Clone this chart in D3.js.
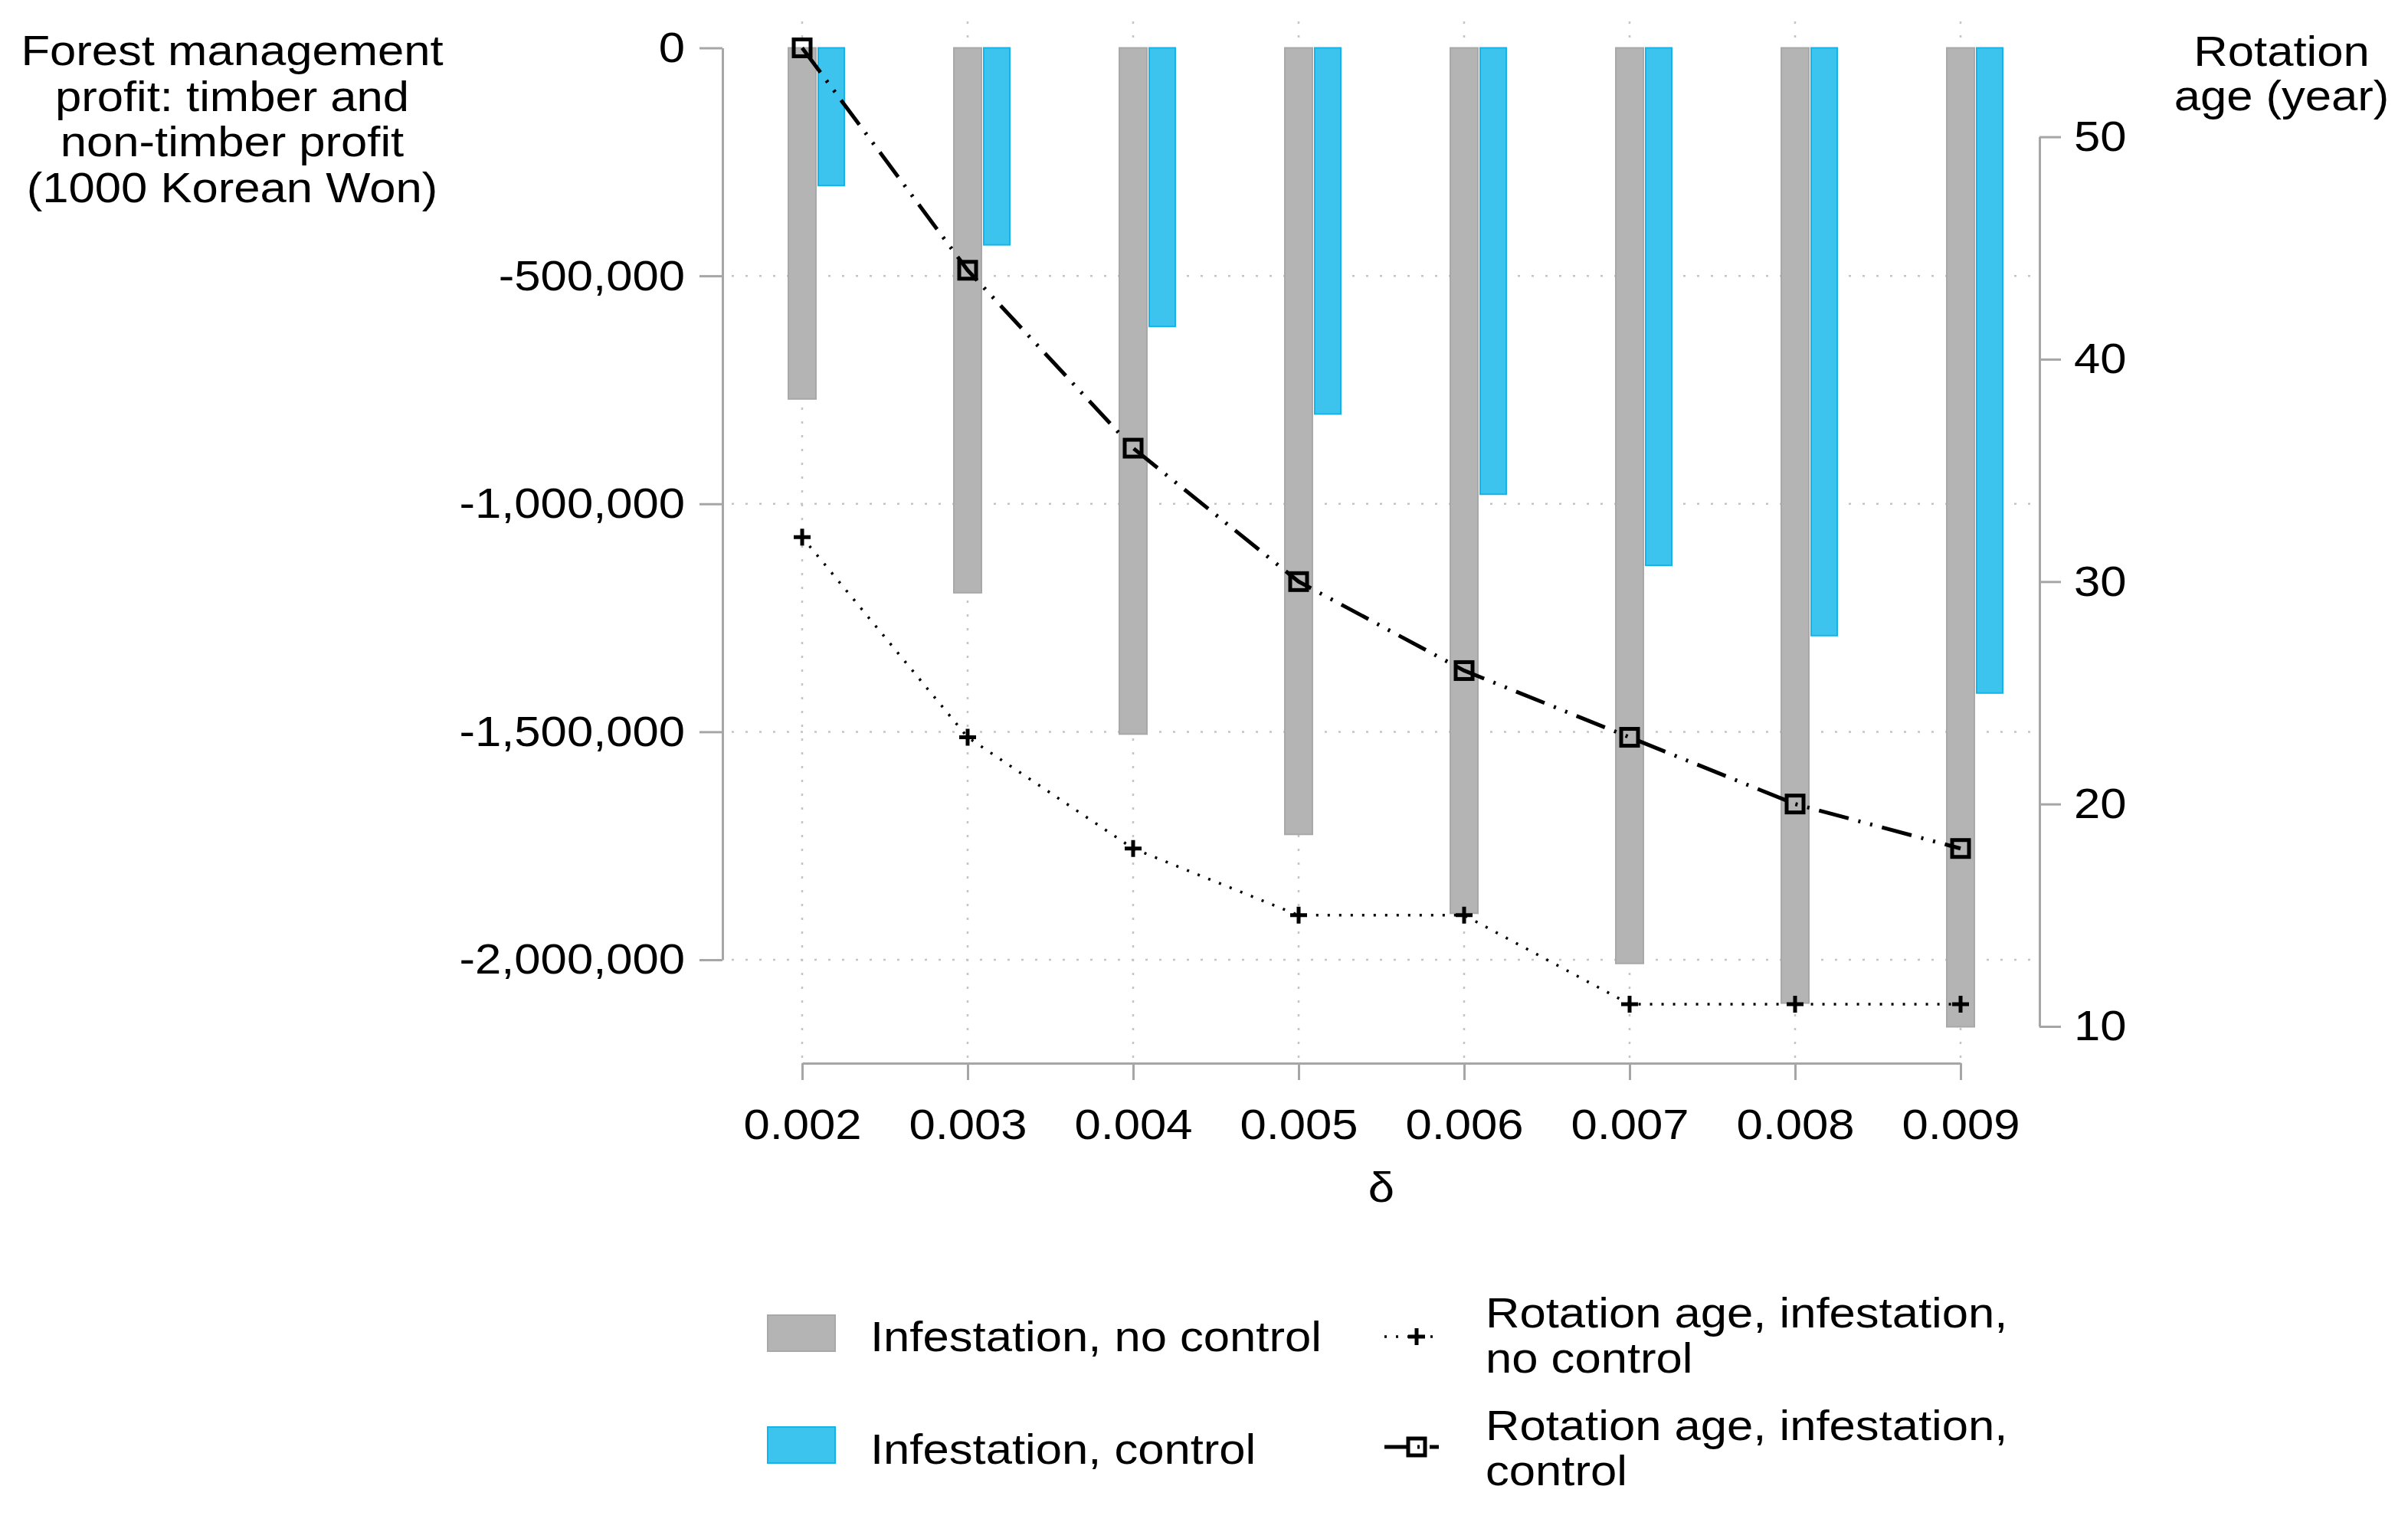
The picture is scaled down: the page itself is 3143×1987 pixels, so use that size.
<!DOCTYPE html>
<html>
<head>
<meta charset="utf-8">
<script src="https://cdn.jsdelivr.net/npm/d3@7"></script>
<style>
  body { margin: 0; background: #fff; }
  text { font-family: "Liberation Sans", Arial, sans-serif; fill: #000; }
</style>
</head>
<body>
<svg></svg>
<script>
// Data
const categories = ["0.002", "0.003", "0.004", "0.005", "0.006", "0.007", "0.008", "0.009"]
const profitNoControl = [-770000, -1195000, -1505000, -1725000, -1898000, -2008000, -2095000, -2147000]
const profitControl = [-302000, -432000, -611000, -803000, -979000, -1135000, -1289000, -1415000]
const ageNoControl = [32, 23, 18, 15, 15, 11, 11, 11]
const ageControl = [54, 44, 36, 30, 26, 23, 20, 18]
const leftTicks = [0, -500000, -1000000, -1500000, -2000000]
const rightTicks = [10, 20, 30, 40, 50]
const leftTitle = ["Forest management", "profit: timber and", "non-timber profit", "(1000 Korean Won)"]
const rightTitle = ["Rotation", "age (year)"]

// Svg size
const width = 3143
const height = 1987
const fontSize = 56
const sx = 1.1 // text in the picture is a little wide

const gray = "#b4b4b4"
const blue = "#3dc4ee"
const axisColor = "#a6a6a6"
const gridColor = "#c4c4c4"

const svg = d3.select("svg")
    .attr("width", width)
    .attr("height", height)

svg.append("rect").attr("width", width).attr("height", height).attr("fill", "#fff")

// Scales
const xScale = d3.scalePoint().domain(categories).range([1047, 2559])
const yLeft = d3.scaleLinear().domain([0, -2000000]).range([62.5, 1253])
const yRight = d3.scaleLinear().domain([10, 50]).range([1340, 178.6])

const fmt = d => d3.format(",")(d).replace("\u2212", "-")

// stretched text helper
const label = (g, x, y, str, anchor) => g.append("text")
    .attr("transform", `translate(${x},${y}) scale(${sx},1)`)
    .attr("text-anchor", anchor)
    .attr("font-size", fontSize)
    .text(str)

// Grid
const grid = svg.append("g")
    .attr("stroke", gridColor)
    .attr("stroke-width", 2.5)
    .attr("stroke-dasharray", "3,15")
grid.selectAll(".h").data(leftTicks.slice(1)).enter().append("line")
    .attr("x1", 955).attr("x2", 2652)
    .attr("y1", d => yLeft(d)).attr("y2", d => yLeft(d))
grid.selectAll(".v").data(categories).enter().append("line")
    .attr("x1", d => xScale(d)).attr("x2", d => xScale(d))
    .attr("y1", 28).attr("y2", 1388)

// Bars
svg.selectAll(".barNo").data(categories).enter().append("rect")
    .attr("x", d => xScale(d) - 18)
    .attr("y", yLeft(0))
    .attr("width", 36)
    .attr("height", (d, i) => yLeft(profitNoControl[i]) - yLeft(0))
    .attr("fill", gray)
    .attr("stroke", "#a8a8a8")
    .attr("stroke-width", 2)

svg.selectAll(".barCtl").data(categories).enter().append("rect")
    .attr("x", d => xScale(d) + 21)
    .attr("y", yLeft(0))
    .attr("width", 34)
    .attr("height", (d, i) => yLeft(profitControl[i]) - yLeft(0))
    .attr("fill", blue)
    .attr("stroke", "#14b3e8")
    .attr("stroke-width", 2)

// Lines
const lineNo = d3.line()
    .x((d, i) => xScale(categories[i]))
    .y(d => yRight(d))

svg.append("path")
    .attr("d", lineNo(ageNoControl))
    .attr("fill", "none")
    .attr("stroke", "#000")
    .attr("stroke-width", 3.5)
    .attr("stroke-dasharray", "3,12")

svg.append("path")
    .attr("d", lineNo(ageControl))
    .attr("fill", "none")
    .attr("stroke", "#000")
    .attr("stroke-width", 5)
    .attr("stroke-dasharray", "40,13,3,13,3,13")

// Markers
const plus = (g, x, y) => g.append("path")
    .attr("d", `M${x - 11},${y}H${x + 11}M${x},${y - 11}V${y + 11}`)
    .attr("stroke", "#000").attr("stroke-width", 5).attr("fill", "none")
const square = (g, x, y) => g.append("rect")
    .attr("x", x - 11).attr("y", y - 11).attr("width", 22).attr("height", 22)
    .attr("stroke", "#000").attr("stroke-width", 5).attr("fill", "none")

ageNoControl.forEach((d, i) => plus(svg, xScale(categories[i]), yRight(d)))
ageControl.forEach((d, i) => square(svg, xScale(categories[i]), yRight(d)))

// Axes
const leftAxisG = svg.append("g")
    .attr("transform", "translate(943,0)")
    .call(d3.axisLeft(yLeft).tickValues(leftTicks).tickFormat(fmt)
        .tickSize(30).tickSizeOuter(0).tickPadding(19))
leftAxisG.selectAll("text")
    .attr("x", -49 / sx)
    .attr("transform", `scale(${sx},1)`)
    .attr("font-size", fontSize)
    .attr("font-family", null)

const rightAxisG = svg.append("g")
    .attr("transform", "translate(2662,0)")
    .call(d3.axisRight(yRight).tickValues(rightTicks)
        .tickSize(28).tickSizeOuter(0).tickPadding(17))
rightAxisG.selectAll("text")
    .attr("x", 45 / sx)
    .attr("transform", `scale(${sx},1)`)
    .attr("font-size", fontSize)
    .attr("font-family", null)

const xAxisG = svg.append("g")
    .attr("transform", "translate(0,1388)")
    .call(d3.axisBottom(xScale).tickSize(22).tickSizeOuter(0).tickPadding(37))
xAxisG.selectAll("text")
    .attr("transform", `scale(${sx},1)`)
    .attr("font-size", fontSize)
    .attr("font-family", null)

svg.selectAll(".domain, .tick line")
    .attr("stroke", axisColor)
    .attr("stroke-width", 3)

// Axis titles
leftTitle.forEach((t, i) => label(svg, 303, 85 + i * 59.5, t, "middle"))
rightTitle.forEach((t, i) => label(svg, 2978, 86 + i * 58, t, "middle"))
label(svg, xScale.range()[0] / 2 + xScale.range()[1] / 2, 1569, "δ", "middle")

// Legend
const legend = svg.append("g")
legend.append("rect").attr("x", 1002).attr("y", 1717).attr("width", 88).attr("height", 47)
    .attr("fill", gray).attr("stroke", "#a8a8a8").attr("stroke-width", 2)
legend.append("rect").attr("x", 1002).attr("y", 1863).attr("width", 88).attr("height", 47)
    .attr("fill", blue).attr("stroke", "#14b3e8").attr("stroke-width", 2)
label(legend, 1136, 1764, "Infestation, no control", "start")
label(legend, 1136, 1911, "Infestation, control", "start")

legend.append("line").attr("x1", 1807).attr("x2", 1878).attr("y1", 1745).attr("y2", 1745)
    .attr("stroke", "#000").attr("stroke-width", 3.5).attr("stroke-dasharray", "3,12")
plus(legend, 1849, 1745)
legend.append("line").attr("x1", 1807).attr("x2", 1878).attr("y1", 1889).attr("y2", 1889)
    .attr("stroke", "#000").attr("stroke-width", 5).attr("stroke-dasharray", "30,13,3,13")
square(legend, 1849, 1889)

label(legend, 1939, 1733, "Rotation age, infestation,", "start")
label(legend, 1939, 1792, "no control", "start")
label(legend, 1939, 1880, "Rotation age, infestation,", "start")
label(legend, 1939, 1939, "control", "start")
</script>
</body>
</html>
